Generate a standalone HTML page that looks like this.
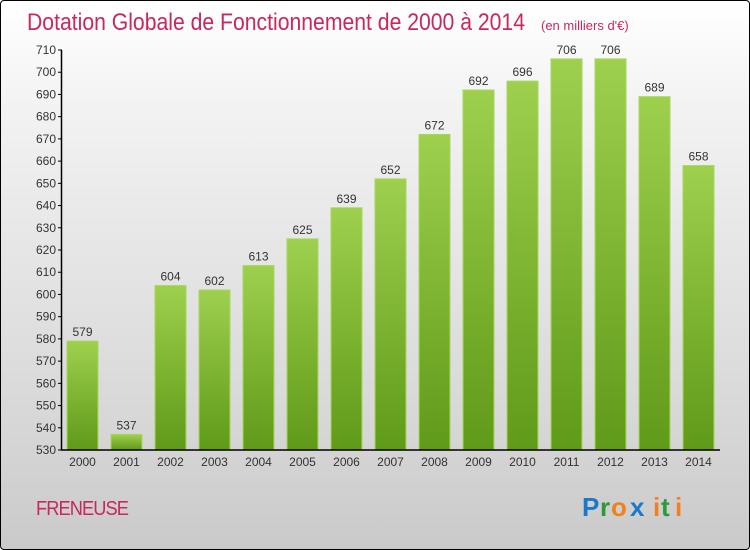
<!DOCTYPE html>
<html><head><meta charset="utf-8"><style>
body{margin:0;width:750px;height:550px;overflow:hidden;font-family:"Liberation Sans",sans-serif}
#frame{position:absolute;left:0;top:0;width:748px;height:548px;border:1px solid #000;border-radius:4px;background:linear-gradient(#fff,#f2f2f2 20%,#d8d8d8 75%,#cacaca)}
</style></head><body>
<div id="frame"></div>
<svg id="c" width="750" height="550" style="position:absolute;left:0;top:0">
<defs><linearGradient id="g" x1="0" y1="0" x2="0" y2="1"><stop offset="0" stop-color="#9ed04e"/><stop offset="1" stop-color="#5f9a18"/></linearGradient></defs>
<text x="27" y="30" font-size="24" fill="#c8285e" font-family="Liberation Sans" style="font-weight:300" textLength="498" lengthAdjust="spacingAndGlyphs">Dotation Globale de Fonctionnement de 2000 à 2014</text>
<text x="541" y="30" font-size="13" fill="#c8285e" style="font-weight:300">(en milliers d'€)</text>
<text x="36" y="515" font-size="20" fill="#c8285e" style="font-weight:300;letter-spacing:-1px" textLength="92" lengthAdjust="spacingAndGlyphs">FRENEUSE</text>
<g font-size="26" font-weight="bold" font-family="Liberation Sans">
<text x="582" y="516" fill="#1c78c8">P</text><text x="600" y="516" fill="#2a9a3a">r</text><text x="611" y="516" fill="#f08020">o</text><text x="630" y="516" fill="#1c78c8">x</text><text x="653" y="516" fill="#f08020">i</text><text x="661" y="516" fill="#2a9a3a">t</text><text x="675" y="516" fill="#f08020">i</text>
</g>
<g id="plot"></g>
</svg>
<script>
const categories=["2000","2001","2002","2003","2004","2005","2006","2007","2008","2009","2010","2011","2012","2013","2014"];
const values=[579,537,604,602,613,625,639,652,672,692,696,706,706,689,658];
const yTicks=[530,540,550,560,570,580,590,600,610,620,630,640,650,660,670,680,690,700,710];
const NS="http://www.w3.org/2000/svg";
const p=document.getElementById('plot');
const y0=450,y1=50,vmin=530,vmax=710;
const y=v=>y0-(v-vmin)/(vmax-vmin)*(y0-y1);
const x=i=>67+i*44;
function mk(t,a,txt){const e=document.createElementNS(NS,t);for(const k in a)e.setAttribute(k,a[k]);if(txt!=null)e.textContent=txt;p.appendChild(e);return e;}
yTicks.forEach(v=>{
 const t=mk('line',{x1:58,x2:62,y1:y(v),y2:y(v),stroke:'#000'});
 
 
 const l=mk('text',{x:56,y:y(v)+4,'font-size':12,'text-anchor':'end',fill:'#333'},v);
 
 
});
values.forEach((v,i)=>{
 const b=mk('rect',{x:x(i),y:y(v),width:31,height:y0-y(v),fill:'url(#g)',stroke:'#a6d85c','stroke-width':1});
 
 
 const t=mk('text',{x:x(i)+15.5,y:y(v)-5,'font-size':12,'text-anchor':'middle',fill:'#333'},v);
 
 
 const c=mk('text',{x:x(i)+15.5,y:466,'font-size':12,'text-anchor':'middle',fill:'#333'},categories[i]);
 
 
});
const ya=mk('line',{x1:61.5,x2:61.5,y1:y1,y2:y0,stroke:'#000','stroke-width':1.5});


const xa=mk('line',{x1:61,x2:720,y1:y0,y2:y0,stroke:'#000','stroke-width':1.5});


</script>
</body></html>
